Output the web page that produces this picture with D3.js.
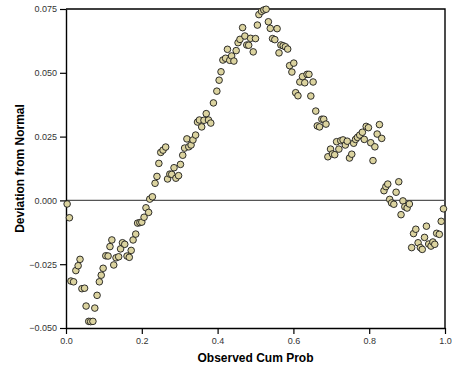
<!DOCTYPE html>
<html>
<head>
<meta charset="utf-8">
<script src="https://cdn.jsdelivr.net/npm/d3@7"></script>
<style>
  body { margin: 0; background: #fff; }
  text { font-family: "Liberation Sans", Arial, sans-serif; }
</style>
</head>
<body>
<svg id="chart" width="459" height="376"></svg>
<script>
// detrended normal P-P plot values
const cumProb = [
  0.003, 0.009, 0.013, 0.020, 0.026, 0.032, 0.037, 0.042, 0.049, 0.053,
  0.060, 0.065, 0.071, 0.076, 0.082, 0.088, 0.093, 0.098, 0.105, 0.111,
  0.116, 0.121, 0.126, 0.132, 0.139, 0.144, 0.149, 0.155, 0.161, 0.167,
  0.172, 0.177, 0.184, 0.189, 0.195, 0.200, 0.206, 0.211, 0.218, 0.221,
  0.228, 0.235, 0.240, 0.245, 0.250, 0.256, 0.263, 0.268, 0.274, 0.279,
  0.285, 0.290, 0.297, 0.302, 0.308, 0.313, 0.319, 0.324, 0.330, 0.335,
  0.342, 0.347, 0.352, 0.358, 0.364, 0.370, 0.376, 0.382, 0.389, 0.398,
  0.404, 0.409, 0.414, 0.421, 0.426, 0.432, 0.437, 0.443, 0.449, 0.454,
  0.459, 0.466, 0.472, 0.477, 0.482, 0.487, 0.494, 0.500, 0.505, 0.509,
  0.516, 0.522, 0.528, 0.534, 0.539, 0.545, 0.551, 0.557, 0.562, 0.567,
  0.573, 0.579, 0.585, 0.590, 0.596, 0.601, 0.606, 0.612, 0.617, 0.624,
  0.630, 0.636, 0.641, 0.646, 0.652, 0.659, 0.663, 0.669, 0.675, 0.680,
  0.686, 0.691, 0.698, 0.703, 0.709, 0.714, 0.720, 0.725, 0.731, 0.737,
  0.742, 0.748, 0.754, 0.759, 0.764, 0.769, 0.775, 0.782, 0.787, 0.792,
  0.798, 0.804, 0.810, 0.815, 0.821, 0.827, 0.833, 0.839, 0.844, 0.849,
  0.854, 0.859, 0.865, 0.871, 0.878, 0.884, 0.889, 0.894, 0.900, 0.906,
  0.912, 0.917, 0.923, 0.929, 0.935, 0.940, 0.946, 0.951, 0.957, 0.963,
  0.968, 0.973, 0.978, 0.985, 0.990, 0.996
];
const deviation = [
  -0.0014, -0.0068, -0.0316, -0.0319, -0.0275, -0.0256, -0.0231, -0.0346, -0.0344, -0.0414,
  -0.0474, -0.0475, -0.0474, -0.0422, -0.0372, -0.0319, -0.0293, -0.0266, -0.0217, -0.0218,
  -0.0181, -0.0155, -0.0253, -0.0225, -0.0221, -0.0190, -0.0166, -0.0172, -0.0218, -0.0223,
  -0.0196, -0.0155, -0.0132, -0.0089, -0.0087, -0.0085, -0.0066, -0.0029, -0.0047, 0.0005,
  0.0014, 0.0067, 0.0094, 0.0145, 0.0188, 0.0197, 0.0209, 0.0084, 0.0103, 0.0102,
  0.0128, 0.0087, 0.0097, 0.0141, 0.0177, 0.0205, 0.0241, 0.0210, 0.0217, 0.0237,
  0.0256, 0.0307, 0.0315, 0.0288, 0.0314, 0.0340, 0.0315, 0.0303, 0.0382, 0.0428,
  0.0471, 0.0504, 0.0550, 0.0557, 0.0592, 0.0549, 0.0566, 0.0546, 0.0587, 0.0618,
  0.0631, 0.0677, 0.0644, 0.0609, 0.0608, 0.0635, 0.0582, 0.0634, 0.0687, 0.0728,
  0.0741, 0.0746, 0.0749, 0.0700, 0.0674, 0.0634, 0.0630, 0.0673, 0.0578, 0.0609,
  0.0606, 0.0602, 0.0593, 0.0528, 0.0503, 0.0538, 0.0422, 0.0410, 0.0464, 0.0485,
  0.0461, 0.0494, 0.0494, 0.0409, 0.0464, 0.0350, 0.0292, 0.0288, 0.0318, 0.0318,
  0.0299, 0.0171, 0.0201, 0.0182, 0.0179, 0.0230, 0.0201, 0.0234, 0.0237, 0.0217,
  0.0232, 0.0166, 0.0181, 0.0224, 0.0239, 0.0247, 0.0256, 0.0267, 0.0239, 0.0290,
  0.0285, 0.0226, 0.0156, 0.0210, 0.0260, 0.0297, 0.0243, 0.0038, 0.0054, 0.0064,
  0.0004, -0.0010, -0.0015, 0.0032, 0.0073, -0.0056, -0.0002, -0.0025, -0.0030, -0.0014,
  -0.0185, -0.0130, -0.0113, -0.0166, -0.0185, -0.0192, -0.0145, -0.0101, -0.0171, -0.0179,
  -0.0163, -0.0172, -0.0129, -0.0133, -0.0082, -0.0033
];
const xTicks = [0, 0.2, 0.4, 0.6, 0.8, 1.0];
const yTicks = [-0.050, -0.025, 0.000, 0.025, 0.050, 0.075];

const data = cumProb.map((p, i) => ({ p: p, dev: deviation[i] }));

const svg = d3.select('#chart');
const margin = { top: 9, right: 14, bottom: 48, left: 66 };
const width = +svg.attr('width');
const height = +svg.attr('height');

const x = d3.scaleLinear()
  .domain([0, 1])
  .range([margin.left, width - margin.right]);

const y = d3.scaleLinear()
  .domain([-0.05, 0.075])
  .range([height - margin.bottom, margin.top]);

// frame top/right
svg.append('path')
  .attr('d', `M${x(0)},${y(0.075)}H${x(1)}V${y(-0.05)}`)
  .attr('fill', 'none')
  .attr('stroke', '#000')
  .attr('stroke-width', 1.4);

// zero reference line
svg.append('line')
  .attr('x1', x(0)).attr('x2', x(1))
  .attr('y1', y(0)).attr('y2', y(0))
  .attr('stroke', '#555')
  .attr('stroke-width', 1.4);

const xAxis = svg.append('g')
  .attr('transform', `translate(0, ${y(-0.05)})`)
  .call(d3.axisBottom(x).tickValues(xTicks).tickFormat(d3.format('.1f')).tickSize(6).tickSizeOuter(0).tickPadding(4));

const yAxis = svg.append('g')
  .attr('transform', `translate(${x(0)}, 0)`)
  .call(d3.axisLeft(y).tickValues(yTicks).tickFormat(d3.format('.3f')).tickSize(6).tickSizeOuter(0).tickPadding(3));

[xAxis, yAxis].forEach(g => {
  g.select('.domain').attr('stroke', '#000').attr('stroke-width', 1.4);
  g.selectAll('.tick line').attr('stroke', '#000').attr('stroke-width', 1.2);
  g.selectAll('.tick text')
    .attr('fill', '#333')
    .style('font-size', '9px')
    .style('font-family', '"Liberation Sans", Arial, sans-serif');
});

svg.append('text')
  .attr('x', (x(0) + x(1)) / 2)
  .attr('y', 362)
  .attr('text-anchor', 'middle')
  .style('font-size', '12px')
  .style('font-weight', 'bold')
  .attr('fill', '#000')
  .text('Observed Cum Prob');

svg.append('text')
  .attr('transform', `translate(24, ${(y(0.075) + y(-0.05)) / 2}) rotate(-90)`)
  .attr('text-anchor', 'middle')
  .style('font-size', '12px')
  .style('font-weight', 'bold')
  .attr('fill', '#000')
  .text('Deviation from Normal');

svg.append('g')
  .selectAll('circle')
  .data(data)
  .enter().append('circle')
  .attr('cx', d => x(d.p))
  .attr('cy', d => y(d.dev))
  .attr('r', 3.3)
  .attr('fill', '#dbd39f')
  .attr('stroke', '#1a1a1a')
  .attr('stroke-width', 0.9);
</script>
</body>
</html>
